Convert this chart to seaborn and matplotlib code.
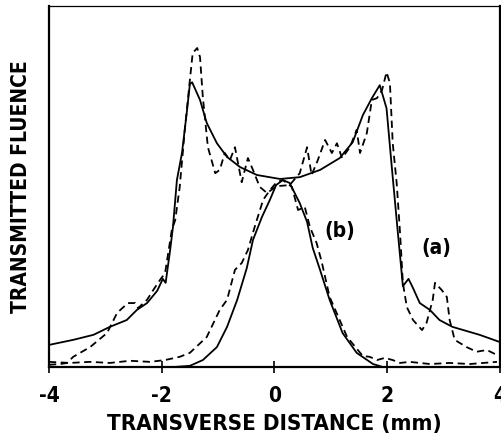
import matplotlib
matplotlib.use("Agg")
import matplotlib.pyplot as plt
import seaborn as sns

# transverse distance (mm) and transmitted fluence (arb. units)
a_solid_x = [-4.00, -3.57, -3.21, -2.92, -2.62, -2.44, -2.26, -2.08, -1.98, -1.93, -1.85, -1.80,
             -1.73, -1.64, -1.55, -1.50, -1.46, -1.32, -1.20, -1.02, -0.84, -0.61, -0.31, 0.10,
             0.45, 0.81, 1.16, 1.39, 1.57, 1.73, 1.87, 1.99, 2.08, 2.17, 2.24, 2.28, 2.38, 2.45,
             2.58, 2.76, 2.93, 3.16, 3.64, 4.00]
a_solid_y = [0.061, 0.075, 0.089, 0.111, 0.130, 0.158, 0.177, 0.211, 0.244, 0.233, 0.324, 0.388,
             0.518, 0.593, 0.712, 0.784, 0.789, 0.740, 0.676, 0.620, 0.582, 0.554, 0.532, 0.521,
             0.526, 0.546, 0.579, 0.623, 0.698, 0.745, 0.781, 0.717, 0.560, 0.407, 0.291, 0.224,
             0.244, 0.222, 0.177, 0.158, 0.130, 0.111, 0.089, 0.069]

a_dash_x = [-4.00, -3.80, -3.68, -3.57, -3.27, -2.97, -2.79, -2.60, -2.47, -2.42, -2.26, -2.15,
            -2.03, -1.94, -1.89, -1.82, -1.76, -1.68, -1.59, -1.50, -1.45, -1.37, -1.32, -1.27,
            -1.18, -1.05, -0.97, -0.88, -0.79, -0.70, -0.58, -0.47, -0.38, -0.26, -0.13, 0.04,
            0.27, 0.45, 0.58, 0.66, 0.77, 0.90, 1.02, 1.11, 1.20, 1.34, 1.46, 1.52, 1.64, 1.73,
            1.82, 1.91, 1.99, 2.05, 2.10, 2.17, 2.23, 2.28, 2.35, 2.46, 2.62, 2.70, 2.81, 2.85,
            2.97, 3.06, 3.11, 3.20, 3.41, 3.59, 3.77, 3.95]
a_dash_y = [0.006, 0.008, 0.011, 0.028, 0.055, 0.094, 0.150, 0.177, 0.177, 0.163, 0.186, 0.213,
            0.241, 0.260, 0.310, 0.380, 0.407, 0.499, 0.657, 0.795, 0.870, 0.884, 0.859, 0.748,
            0.609, 0.537, 0.546, 0.593, 0.573, 0.609, 0.512, 0.579, 0.546, 0.499, 0.482, 0.501,
            0.504, 0.537, 0.609, 0.532, 0.573, 0.629, 0.593, 0.620, 0.579, 0.609, 0.657, 0.593,
            0.648, 0.740, 0.745, 0.767, 0.817, 0.787, 0.620, 0.510, 0.371, 0.233, 0.166, 0.130,
            0.102, 0.122, 0.186, 0.233, 0.213, 0.194, 0.130, 0.075, 0.055, 0.042, 0.047, 0.033]

b_solid_x = [-1.76, -1.50, -1.27, -1.02, -0.84, -0.66, -0.49, -0.38, -0.22, -0.08, 0.03, 0.15,
             0.27, 0.45, 0.58, 0.68, 0.81, 0.98, 1.21, 1.46, 1.75, 1.92]
b_solid_y = [0.000, 0.003, 0.019, 0.055, 0.111, 0.186, 0.274, 0.352, 0.416, 0.463, 0.504, 0.518,
             0.510, 0.454, 0.402, 0.330, 0.269, 0.186, 0.094, 0.039, 0.008, 0.000]

b_dash_x = [-4.00, -3.63, -3.27, -2.92, -2.56, -2.21, -1.94, -1.68, -1.50, -1.20, -0.97, -0.84,
            -0.70, -0.58, -0.47, -0.35, -0.20, -0.08, 0.04, 0.15, 0.31, 0.42, 0.54, 0.63, 0.75,
            0.84, 0.98, 1.29, 1.57, 1.69, 1.82, 1.96, 2.10, 2.23, 2.40, 2.76, 3.11, 3.47, 3.95]
b_dash_y = [0.014, 0.011, 0.014, 0.011, 0.017, 0.014, 0.019, 0.028, 0.039, 0.083, 0.158, 0.186,
            0.269, 0.288, 0.324, 0.388, 0.463, 0.490, 0.512, 0.518, 0.499, 0.435, 0.443, 0.388,
            0.343, 0.291, 0.194, 0.083, 0.030, 0.028, 0.019, 0.025, 0.019, 0.011, 0.014, 0.008,
            0.011, 0.008, 0.014]

x_ticks = [-4, -2, 0, 2, 4]

sns.set_style("ticks")
plt.rcParams['font.family'] = ['DejaVu Sans']
plt.rcParams['font.stretch'] = 'condensed'
plt.rcParams['text.color'] = 'black'
plt.rcParams['axes.labelcolor'] = 'black'
plt.rcParams['xtick.color'] = 'black'

fig = plt.figure(figsize=(5.02, 4.41), dpi=100)
ax = fig.add_axes([0.0976, 0.168, 0.898, 0.818])

for xs, ys, ls in [(a_solid_x, a_solid_y, '-'), (b_solid_x, b_solid_y, '-'),
                   (a_dash_x, a_dash_y, '--'), (b_dash_x, b_dash_y, '--')]:
    sns.lineplot(x=xs, y=ys, ax=ax, sort=False, estimator=None, color='black',
                 linewidth=1.3, linestyle=ls)

for line in ax.lines:
    if line.get_linestyle() == '--':
        line.set_dashes([4, 2.5])

ax.set_xlim(-4, 4)
ax.set_ylim(0, 1)
ax.set_xticks(x_ticks)
ax.set_xticklabels([str(t) for t in x_ticks], fontsize=15, fontweight='bold',
                   fontstretch='condensed')
ax.set_yticks([])
ax.tick_params(axis='x', direction='inout', length=9, width=1.2, pad=9)
for side in ['left', 'bottom', 'right']:
    ax.spines[side].set_linewidth(1.6)
    ax.spines[side].set_color('black')
ax.spines['top'].set_linewidth(0.9)
ax.spines['top'].set_color('black')

ax.set_xlabel('TRANSVERSE DISTANCE (mm)', fontsize=16, fontweight='bold',
              fontstretch='condensed', labelpad=6)
ax.set_ylabel('TRANSMITTED FLUENCE', fontsize=15, fontweight='bold',
              fontstretch='condensed', labelpad=13)

ax.text(1.16, 0.377, '(b)', fontsize=15, fontweight='bold', fontstretch='condensed',
        ha='center', va='center')
ax.text(2.88, 0.33, '(a)', fontsize=15, fontweight='bold', fontstretch='condensed',
        ha='center', va='center')

fig.savefig('out.png', dpi=100)
